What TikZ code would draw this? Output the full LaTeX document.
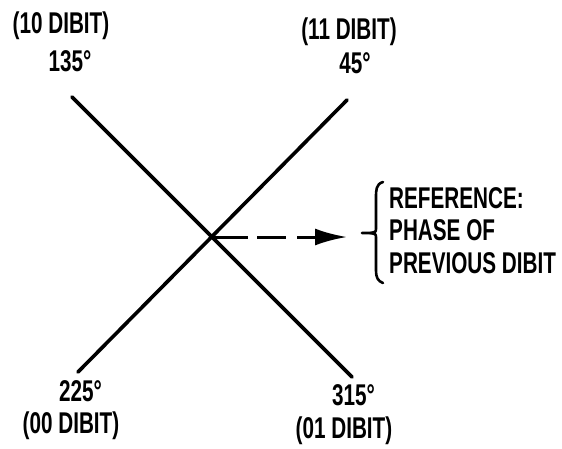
\documentclass[tikz,border=0pt]{standalone}
\usepackage{fontspec}
\setmainfont{Liberation Sans}
\newfontfamily\cond[FakeStretch=0.69]{Liberation Sans}
\usetikzlibrary{arrows.meta}
\begin{document}
\begin{tikzpicture}[x=1pt,y=-1pt,
  lbl/.style={anchor=base,inner sep=0pt,font=\cond\bfseries\fontsize{30}{32.5}\selectfont},
  axisline/.style={line width=3.6pt,line cap=round},
  refarrow/.style={line width=3pt,dash pattern=on 36pt off 9pt on 29pt off 11pt,-{Latex[length=32pt,width=17pt]}},
  bracepath/.style={line width=2.6pt,line cap=round,line join=round}]
\useasboundingbox (0,0) rectangle (562,448);
% line ends
\coordinate (e135) at (72,97);
\coordinate (e315) at (352,377);
\coordinate (e45) at (347,100);
\coordinate (e225) at (78,372);
\coordinate (c) at (212,237);
\coordinate (tip) at (347,237);
\draw[axisline] (e135) -- (e315);
\draw[axisline] (e45) -- (e225);
\draw[refarrow] (c) -- (tip);
% labels
\node[lbl] (l10) at (61,33) {(10 DIBIT)};
\node[lbl] (d135) at (70,71) {135°};
\node[lbl] (l11) at (349,39) {(11 DIBIT)};
\node[lbl] (d45) at (355,73) {45°};
\node[lbl] (d225) at (80.5,401) {225°};
\node[lbl] (l00) at (71,433) {(00 DIBIT)};
\node[lbl] (d315) at (353.5,405) {315°};
\node[lbl] (l01) at (344,438) {(01 DIBIT)};
% brace
\coordinate (btop) at (383,182);
\coordinate (bbot) at (383,283);
\coordinate (btip) at (362,233);
\draw[bracepath] (btop) .. controls (376,184) and (376,190) .. (376,198)
  -- (376,228) .. controls (376,232) .. (370,233) -- (btip);
\draw[bracepath] (370,233) .. controls (376,234) .. (376,238)
  -- (376,270) .. controls (376,278) and (378,281) .. (bbot);
% reference text
\node[lbl,anchor=north west,align=left] (ref) at (389,187) {REFERENCE:\\PHASE OF\\PREVIOUS DIBIT};
\end{tikzpicture}
\end{document}
